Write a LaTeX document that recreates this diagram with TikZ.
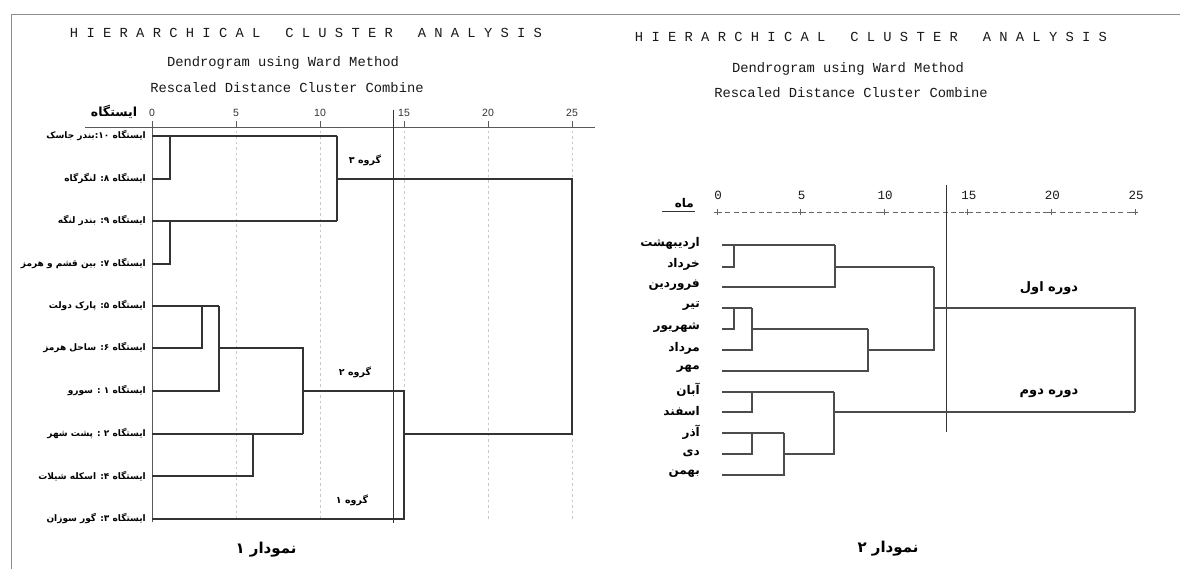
\documentclass[tikz,border=0pt]{standalone}
\usepackage{fontspec}
\setmainfont{Liberation Sans}
\newfontfamily\fa[Script=Arabic]{DejaVu Sans}
\newfontfamily\monof{Liberation Mono}
\TeXXeTstate=1
\newcommand{\fat}[1]{{\fa\bfseries\beginR #1\endR}}
\tikzset{
  frame/.style={draw=black!45, line width=1pt},
  axisline/.style={draw=black!65, line width=1pt},
  gridl/.style={draw=black!22, line width=0.8pt, dash pattern=on 2.5pt off 3pt},
  treeL/.style={draw=black!80, line width=1.8pt},
  treeR/.style={draw=black!70, line width=1.2pt},
  cutline/.style={draw=black!80, line width=1pt},
  mono/.style={font=\monof\fontsize{13.8}{15}\selectfont, text=black!90, inner sep=0pt},
  ticklbl/.style={font=\fontsize{10.5}{12}\selectfont, text=black!80, inner sep=0pt},
  leafL/.style={anchor=east, inner sep=0pt, font=\fontsize{9}{11}\selectfont},
  leafR/.style={anchor=east, inner sep=0pt, font=\fontsize{12}{14}\selectfont},
  grp/.style={inner sep=0pt, font=\fontsize{9.5}{11}\selectfont},
  captxt/.style={inner sep=0pt, font=\fontsize{15}{17}\selectfont},
}
\begin{document}
\begin{tikzpicture}[x=1pt,y=-1pt]
\useasboundingbox (0,0) rectangle (1180,569);
\fill[white] (0,0) rectangle (1180,569);
% outer frame
\draw[frame] (11,569) -- (11,15) -- (1180,15);

% ===== LEFT PANEL =====
\node[mono] (tL) at (306,33) {H~I~E~R~A~R~C~H~I~C~A~L~~~C~L~U~S~T~E~R~~~A~N~A~L~Y~S~I~S};
\node[mono] (dL) at (283,63) {Dendrogram using Ward Method};
\node[mono] (rL) at (287,88) {Rescaled Distance Cluster Combine};
\node[captxt, font=\fontsize{12.5}{14}\selectfont] (hL) at (114,112) {\fat{ایستگاه}};
\draw[axisline] (85,128) -- (595,128);
\foreach \v in {0,5,10,15,20,25}{
  \pgfmathsetmacro{\xx}{152+16.8*\v}
  \draw[axisline] (\xx,121) -- (\xx,128);
  \node[ticklbl] at (\xx,113) {\v};
}
\foreach \v in {5,10,15,20,25}{
  \pgfmathsetmacro{\xx}{152+16.8*\v}
  \draw[gridl] (\xx,131) -- (\xx,521);
}
\draw[axisline] (152,121) -- (152,522);

% leaves
\foreach \n/\y in {1/136,2/179,3/221,4/264,5/306,6/348,7/391,8/434,9/476,10/519}{
  \coordinate (L\n) at (152,\y);
}
\node[leafL] (lab1) at (146,136) {\fat{ایستگاه \beginL۱۰\endL:بندر جاسک}};
\node[leafL] (lab2) at (146,179) {\fat{ایستگاه ۸: لنگرگاه}};
\node[leafL] (lab3) at (146,221) {\fat{ایستگاه ۹: بندر لنگه}};
\node[leafL] (lab4) at (146,264) {\fat{ایستگاه ۷: بین قشم و هرمز}};
\node[leafL] (lab5) at (146,306) {\fat{ایستگاه ۵: پارک دولت}};
\node[leafL] (lab6) at (146,348) {\fat{ایستگاه ۶: ساحل هرمز}};
\node[leafL] (lab7) at (146,391) {\fat{ایستگاه ۱ : سورو}};
\node[leafL] (lab8) at (146,434) {\fat{ایستگاه ۲ : پشت شهر}};
\node[leafL] (lab9) at (146,476) {\fat{ایستگاه ۴: اسکله شیلات}};
\node[leafL] (lab10) at (146,519) {\fat{ایستگاه ۳: گور سوزان}};

% tree
\draw[treeL] (L1) -- (337,136);
\draw[treeL] (L2) -- (170,179) -- (170,136);
\draw[treeL] (L3) -- (337,221);
\draw[treeL] (L4) -- (170,264) -- (170,221);
\draw[treeL] (337,136) -- (337,221);
\draw[treeL] (337,179) -- (572,179) -- (572,434) -- (404,434);
\draw[treeL] (L5) -- (219,306);
\draw[treeL] (L6) -- (202,348) -- (202,306);
\draw[treeL] (L7) -- (219,391) -- (219,306);
\draw[treeL] (219,348) -- (303,348) -- (303,434);
\draw[treeL] (L8) -- (303,434);
\draw[treeL] (L9) -- (253,476) -- (253,434);
\draw[treeL] (303,391) -- (404,391) -- (404,519) -- (L10);
\draw[cutline] (393,110) -- (393,523);

\node[grp] (g3) at (365,160) {\fat{گروه ۳}};
\node[grp] (g2) at (355,372) {\fat{گروه ۲}};
\node[grp] (g1) at (352,500) {\fat{گروه ۱}};
\node[captxt] (c1) at (266,550) {\fat{نمودار ۱}};

% ===== RIGHT PANEL =====
\node[mono] (tR) at (871,37) {H~I~E~R~A~R~C~H~I~C~A~L~~~C~L~U~S~T~E~R~~~A~N~A~L~Y~S~I~S};
\node[mono] (dR) at (848,69) {Dendrogram using Ward Method};
\node[mono] (rR) at (851,93) {Rescaled Distance Cluster Combine};
\node[leafR] (hR) at (694,203) {\fat{ماه}};
\draw[black!80, line width=1pt] (662,212) -- (695,212);
\draw[black!60, line width=0.9pt, dash pattern=on 5pt off 3.36pt] (717,212) -- (1135,212);
\foreach \v in {0,5,10,15,20,25}{
  \pgfmathsetmacro{\xx}{717+16.72*\v}
  \draw[black!60, line width=0.9pt] (\xx-3,212) -- (\xx+3,212) (\xx,209) -- (\xx,215);
  \node[mono, font=\monof\fontsize{12.5}{14}\selectfont] at (\xx+1,195) {\v};
}
\draw[cutline, line width=0.8pt] (946,185) -- (946,432);

\foreach \n/\y in {1/245,2/267,3/287,4/308,5/329,6/350,7/371,8/392,9/412,10/433,11/454,12/475}{
  \coordinate (R\n) at (722,\y);
}
\node[leafR] (m1) at (700,243) {\fat{اردیبهشت}};
\node[leafR] (m2) at (700,264) {\fat{خرداد}};
\node[leafR] (m3) at (700,285) {\fat{فروردین}};
\node[leafR] (m4) at (700,306) {\fat{تیر}};
\node[leafR] (m5) at (700,327) {\fat{شهریور}};
\node[leafR] (m6) at (700,348) {\fat{مرداد}};
\node[leafR] (m7) at (700,369) {\fat{مهر}};
\node[leafR] (m8) at (700,390) {\fat{آبان}};
\node[leafR] (m9) at (700,411) {\fat{اسفند}};
\node[leafR] (m10) at (700,432) {\fat{آذر}};
\node[leafR] (m11) at (700,453) {\fat{دی}};
\node[leafR] (m12) at (700,474) {\fat{بهمن}};

\draw[treeR] (R1) -- (835,245);
\draw[treeR] (R2) -- (734,267) -- (734,245);
\draw[treeR] (R3) -- (835,287) -- (835,245);
\draw[treeR] (835,267) -- (934,267);
\draw[treeR] (R4) -- (752,308);
\draw[treeR] (R5) -- (734,329) -- (734,308);
\draw[treeR] (R6) -- (752,350) -- (752,308);
\draw[treeR] (752,329) -- (868,329);
\draw[treeR] (R7) -- (868,371) -- (868,329);
\draw[treeR] (868,350) -- (934,350) -- (934,267);
\draw[treeR] (934,308) -- (1135,308) -- (1135,412);
\draw[treeR] (R8) -- (834,392);
\draw[treeR] (R9) -- (752,412) -- (752,392);
\draw[treeR] (R10) -- (784,433);
\draw[treeR] (R11) -- (752,454) -- (752,433);
\draw[treeR] (R12) -- (784,475) -- (784,433);
\draw[treeR] (784,454) -- (834,454) -- (834,392);
\draw[treeR] (834,412) -- (1135,412);

\node[grp, font=\fontsize{13}{15}\selectfont] (p1) at (1049,288) {\fat{دوره اول}};
\node[grp, font=\fontsize{13}{15}\selectfont] (p2) at (1049,393) {\fat{دوره دوم}};
\node[captxt] (c2) at (888,549) {\fat{نمودار ۲}};
\end{tikzpicture}
\end{document}
